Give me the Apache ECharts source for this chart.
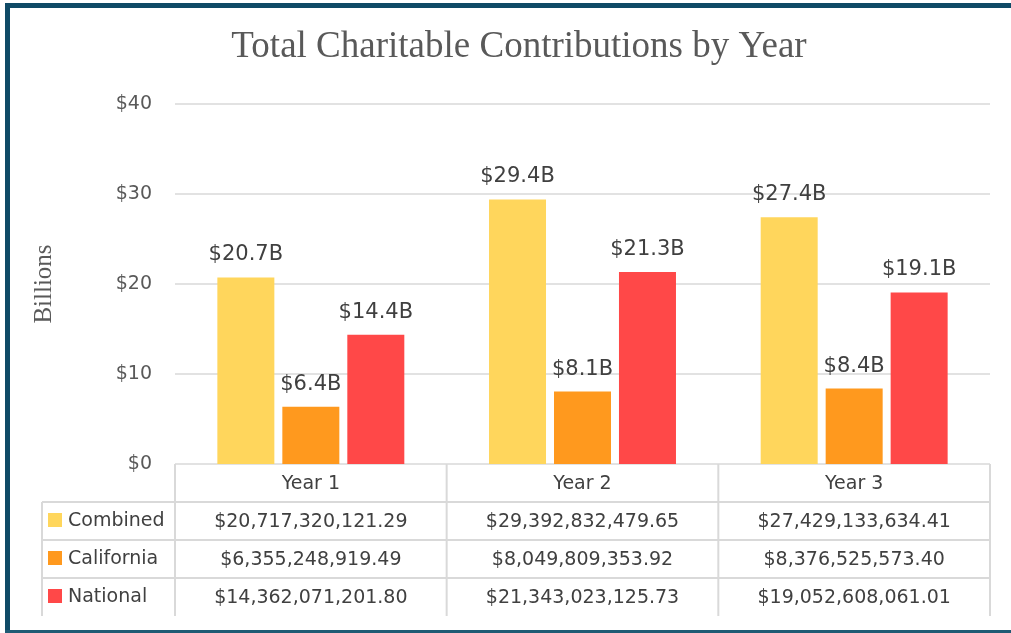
<!DOCTYPE html>
<html>
<head>
<meta charset="utf-8">
<script src="https://cdn.jsdelivr.net/npm/echarts@6/dist/echarts.min.js"></script>
<style>
  html, body { margin: 0; padding: 0; background: #fff; }
  #main { width: 1011px; height: 633px; }
</style>
</head>
<body>
<div id="main"></div>
<script>
// data
var years = ['Year 1', 'Year 2', 'Year 3'];
var seriesNames = ['Combined', 'California', 'National'];
var seriesColors = ['#FFD65C', '#FF991E', '#FF4848'];
var combined = [20717320121.29, 29392832479.65, 27429133634.41];
var california = [6355248919.49, 8049809353.92, 8376525573.40];
var national = [14362071201.80, 21343023125.73, 19052608061.01];
var yTicks = [0, 10, 20, 30, 40];

var allValues = [combined, california, national];
var sansFont = 'DejaVu Sans';
var serifFont = 'Liberation Serif';

// layout
var gridLeft = 175, gridRight = 990, gridTop = 104, gridBottom = 464;
var rowH = 38, tableLeft = 42;
var lineColor = '#d9d9d9';

function billions(arr) {
    return arr.map(function (v) { return v / 1e9; });
}
function money(v) {
    return '$' + v.toLocaleString('en-US', { minimumFractionDigits: 2, maximumFractionDigits: 2 });
}

var myChart = echarts.init(document.getElementById('main'));

var series = seriesNames.map(function (name, i) {
    return {
        name: name,
        type: 'bar',
        barWidth: 57,
        barGap: '14%',
        itemStyle: { color: seriesColors[i] },
        label: {
            show: true,
            position: 'top',
            distance: 12,
            color: '#404040',
            fontFamily: sansFont,
            fontSize: 21,
            formatter: function (p) {
                // the labels are rounded from the two-decimal value, like the source sheet
                return '$' + (Math.round(p.value * 100) / 100).toFixed(1) + 'B';
            }
        },
        data: billions(allValues[i])
    };
});

myChart.setOption({
    animation: false,
    title: {
        text: 'Total Charitable Contributions by Year',
        left: 514,
        top: 24,
        textAlign: 'center',
        textStyle: { fontFamily: serifFont, fontWeight: 'normal', fontSize: 37, color: '#595959' }
    },
    grid: { left: gridLeft, right: 1011 - gridRight, top: gridTop, bottom: 633 - gridBottom },
    xAxis: {
        type: 'category',
        data: years,
        axisLine: { show: false },
        axisTick: { show: false },
        axisLabel: { show: false }
    },
    yAxis: {
        type: 'value',
        min: yTicks[0],
        max: yTicks[yTicks.length - 1],
        interval: 10,
        name: 'Billions',
        nameLocation: 'middle',
        nameRotate: 90,
        nameGap: 118,
        nameTextStyle: { fontFamily: serifFont, fontSize: 25, color: '#595959' },
        axisLine: { show: false },
        axisTick: { show: false },
        axisLabel: {
            margin: 23,
            color: '#595959',
            fontFamily: sansFont,
            fontSize: 19,
            formatter: function (v) { return '$' + v; }
        },
        splitLine: { lineStyle: { color: lineColor, width: 1.5 } }
    },
    series: series
});

// data table under the plot
var g = [];
var colW = (gridRight - gridLeft) / years.length;
var tableBottom = gridBottom + rowH * (seriesNames.length + 1);
function hline(x1, x2, y) {
    g.push({ type: 'line', shape: { x1: x1, y1: y, x2: x2, y2: y }, style: { stroke: lineColor, lineWidth: 2 } });
}
function vline(x, y1, y2) {
    g.push({ type: 'line', shape: { x1: x, y1: y1, x2: x, y2: y2 }, style: { stroke: lineColor, lineWidth: 2 } });
}
function cellText(x, y, txt, align) {
    g.push({
        type: 'text', x: x, y: y,
        style: { text: txt, fill: '#404040', font: '19px "' + sansFont + '"', align: align || 'center', verticalAlign: 'middle' }
    });
}
for (var r = 1; r <= seriesNames.length; r++) hline(tableLeft, gridRight, gridBottom + rowH * r);
vline(tableLeft, gridBottom + rowH, tableBottom);
for (var c = 0; c <= years.length; c++) vline(gridLeft + colW * c, gridBottom, tableBottom);
years.forEach(function (y, c) {
    var cx = myChart.convertToPixel({ xAxisIndex: 0 }, y);
    cellText(cx, gridBottom + rowH / 2 + 1, y);
    allValues.forEach(function (arr, r) {
        cellText(cx, gridBottom + rowH * (r + 1.5) + 1, money(arr[c]));
    });
});
seriesNames.forEach(function (name, r) {
    var my = gridBottom + rowH * (r + 1.5);
    g.push({ type: 'rect', shape: { x: 48, y: my - 8, width: 14, height: 14 }, style: { fill: seriesColors[r] } });
    cellText(68, my, name, 'left');
});

// frame
var frame = '#0F4A66';
g.push({ type: 'rect', shape: { x: 5, y: 3, width: 1006, height: 5 }, style: { fill: frame } });
g.push({ type: 'rect', shape: { x: 5, y: 3, width: 5, height: 630 }, style: { fill: frame } });
g.push({ type: 'rect', shape: { x: 5, y: 630, width: 1006, height: 3 }, style: { fill: '#1F5B74' } });

myChart.setOption({ graphic: g });
</script>
</body>
</html>
